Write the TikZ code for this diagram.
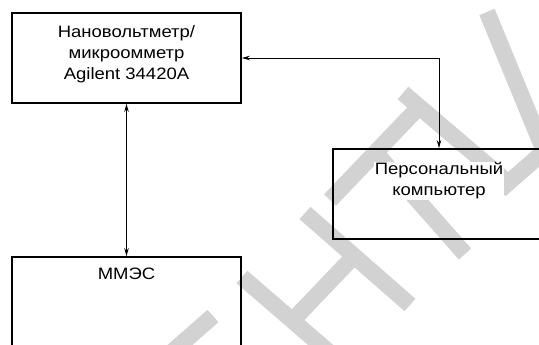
\documentclass[tikz,border=0pt]{standalone}
\usepackage{fontspec}
\setmainfont{Liberation Sans}[FakeStretch=1.12]
\usetikzlibrary{arrows.meta}
\definecolor{wmgray}{RGB}{210,210,210}
\begin{document}
\begin{tikzpicture}[x=1pt,y=-1pt,
  wm/.style={line width=16.5pt, draw=wmgray},
  box/.style={draw, line width=1.7pt, minimum width=229pt, minimum height=90pt, inner sep=0pt},
  lbl/.style={fill=white, inner sep=1pt, align=center, font=\fontsize{16.5}{21}\selectfont},
  conn/.style={line width=0.9pt, {Stealth[length=8pt,width=4.5pt]}-{Stealth[length=8pt,width=4.5pt]}}]
\clip (0,0) rectangle (539,345);
\fill[white] (0,0) rectangle (539,345);
% watermark
\draw[wm] (172,352) -- (213,316);
\draw[wm] (242,277) -- (345,366);
\draw[wm] (305,213) -- (410,305);
\draw[wm] (293,320) -- (356,254);
\draw[wm] (330,200) -- (420,106);
\draw[wm] (375,152) -- (465,254);
\draw[wm] (403,93) -- (512,186);
\draw[wm] (500,190) -- (548,148);
\draw[wm] (487,12) -- (548,160);
% boxes
\node[box] (nv) at (126.5,58) {};
\node[box, minimum width=212pt] (pc) at (439,194) {};
\node[box, minimum height=110pt] (mm) at (126.5,312) {};
% labels
\node[lbl] (nvt) at (126.5,54) {Нановольтметр/\\микроомметр\\Agilent 34420A};
\node[lbl] (pct) at (439,181) {Персональный\\компьютер};
\node[lbl] (mmt) at (126.5,274) {ММЭС};
% connectors
\draw[conn] (nv.south) -- (mm.north);
\draw[conn] (nv.east) -| (pc.north);
\end{tikzpicture}
\end{document}
